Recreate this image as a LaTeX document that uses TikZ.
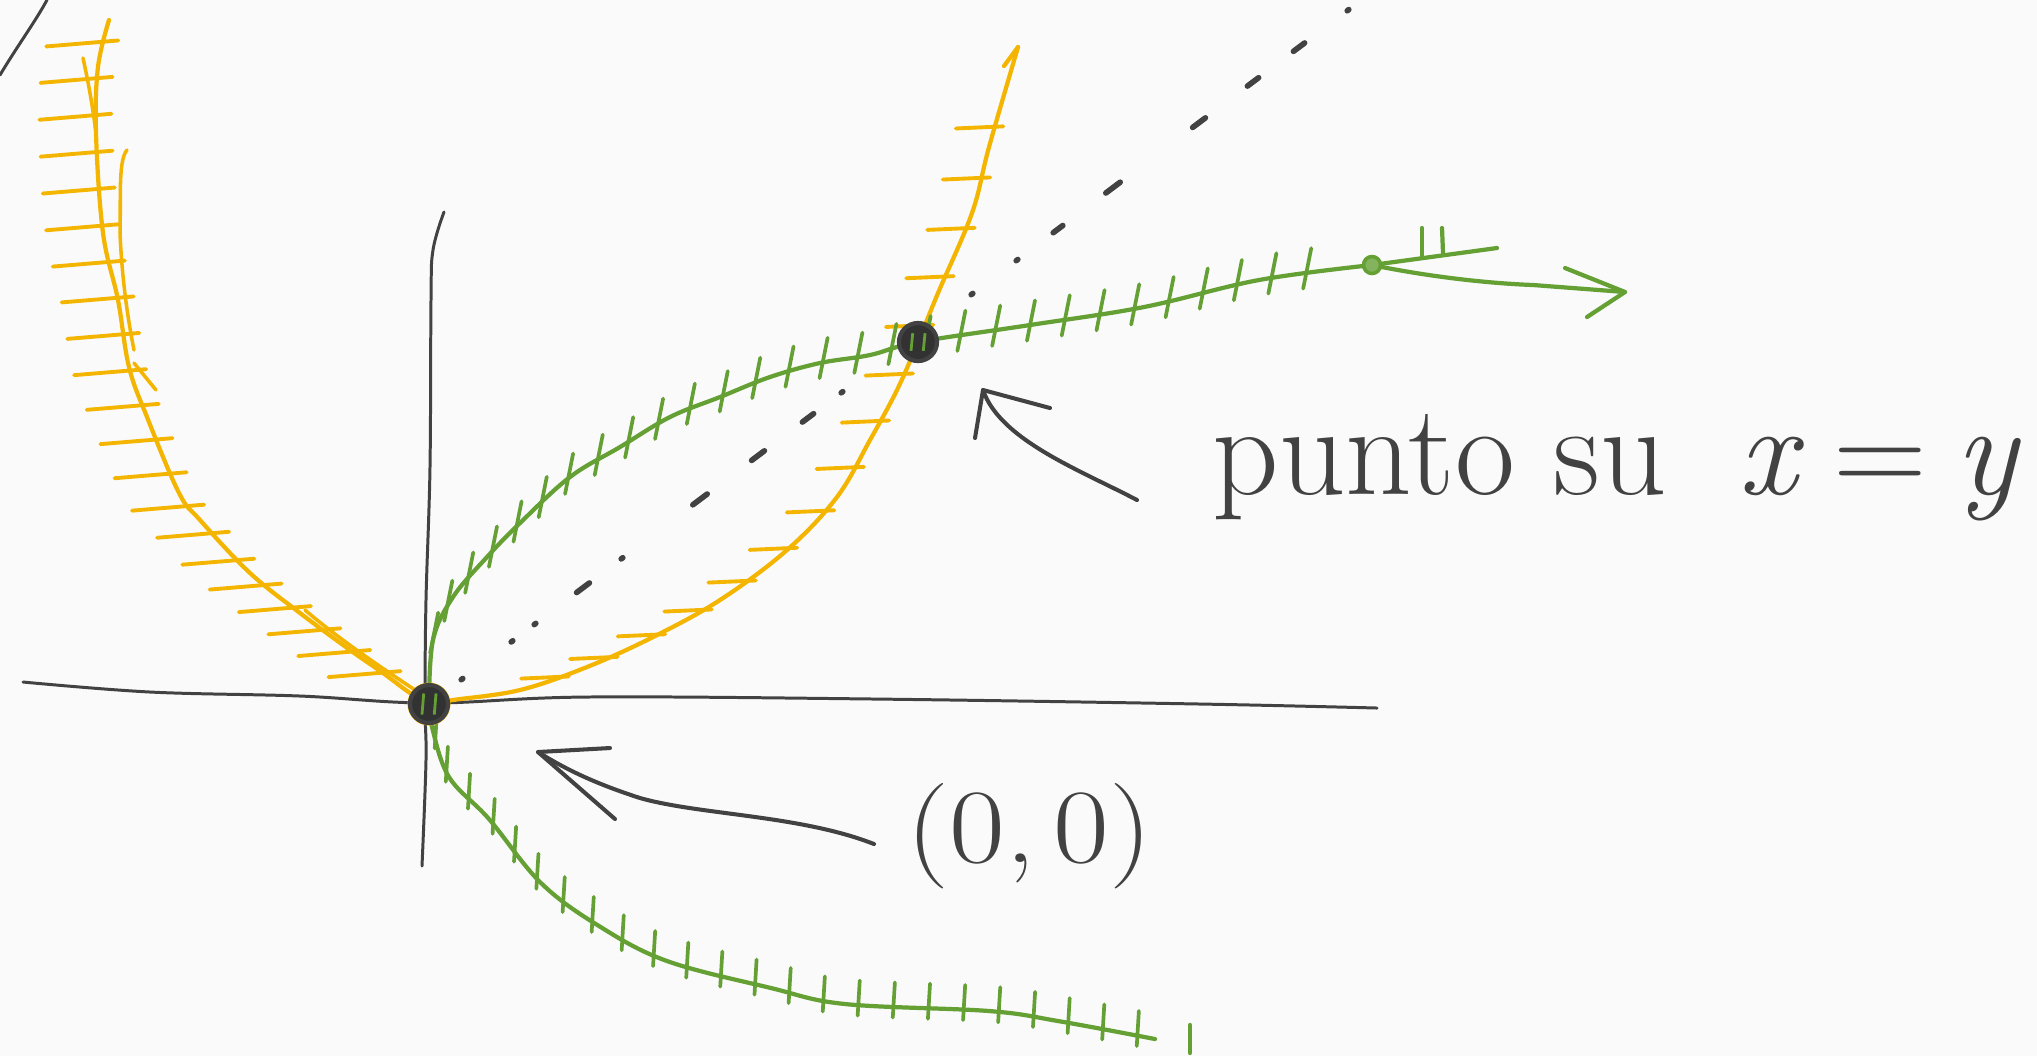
\documentclass[tikz,border=0pt]{standalone}
\usetikzlibrary{decorations.markings}
\definecolor{bgc}{RGB}{250,250,250}
\definecolor{ora}{RGB}{244,181,0}
\definecolor{grn}{RGB}{100,160,52}
\definecolor{ink}{RGB}{66,66,66}
\definecolor{dotc}{RGB}{50,50,50}
\tikzset{
  curveO/.style={ora, line width=1.2pt, line cap=round, line join=round},
  curveG/.style={grn, line width=1.2pt, line cap=round, line join=round},
  axisline/.style={ink, line width=0.85pt, line cap=round, line join=round},
  pen/.style={ink, line width=1.15pt, line cap=round, line join=round},
  dotpen/.style={ink, line width=1.6pt, line cap=round},
  hatchOL/.style={postaction={decorate, decoration={markings,
     mark=between positions 0.03 and 0.975 step 10.5pt with {\pgftransformresetnontranslations
       \draw[ora, line width=1.1pt, line cap=round] (-16pt,-0.8pt) -- (4.5pt,0.9pt);}}}},
  hatchOR/.style={postaction={decorate, decoration={markings,
     mark=between positions 0.14 and 0.94 step 15pt with {\pgftransformresetnontranslations
       \draw[ora, line width=1.1pt, line cap=round] (-11pt,-0.3pt) -- (2.5pt,0.3pt);}}}},
  hatchGU/.style={postaction={decorate, decoration={markings,
     mark=between positions 0.06 and 0.95 step 10pt with {\pgftransformresetnontranslations
       \draw[grn, line width=1.05pt, line cap=round] (-1pt,-4.5pt) -- (1.3pt,7pt);}}}},
  hatchGL/.style={postaction={decorate, decoration={markings,
     mark=between positions 0.04 and 0.98 step 10pt with {\pgftransformresetnontranslations
       \draw[grn, line width=1.05pt, line cap=round] (0pt,-3pt) -- (0.6pt,7pt);}}}},
  bigdot/.style={circle, fill=dotc, draw=ink, line width=1.2pt, minimum size=0.38cm, inner sep=0pt},
  smalldot/.style={circle, draw=grn, fill=grn!80!white, line width=1pt, minimum size=0.17cm, inner sep=0pt},
  lbl/.style={ink, inner sep=0pt}
}
\begin{document}
\begin{tikzpicture}[x=0.01cm, y=-0.01cm]
\fill[bgc] (0,0) rectangle (2037,1056);
\useasboundingbox (0,0) rectangle (2037,1056);

\coordinate (O) at (429,704);
\coordinate (P) at (918,342);
\coordinate (G) at (1372,265);

% stray line top left
\draw[axisline] (0,75) .. controls (18,45) and (35,22) .. (47,0);

% axes
\draw[axisline] plot[smooth, tension=0.6] coordinates {(23,682) (150,692) (300,696) (429,703) (587,697) (874,699) (1200,704) (1377,708)};
\draw[axisline] plot[smooth, tension=0.6] coordinates {(444,212) (433,250) (431,300) (430,467) (426,600) (425,704) (426,760) (422,866)};

% dotted diagonal x=y
\foreach \px/\len in {462/0, 512/0, 535/0, 583/14, 622/0, 700/16, 758/14, 808/12, 842/0, 972/0, 1017/0, 1058/10, 1113/16, 1199/14, 1253/12, 1299/12, 1348/0}{
  \pgfmathsetmacro{\py}{704-0.755*(\px-429)}
  \pgfmathsetmacro{\hx}{0.4*\len+0.8}
  \pgfmathsetmacro{\hy}{0.3*\len+0.6}
  \draw[dotpen] (\px-\hx,\py+\hy) -- (\px+\hx,\py-\hy);
}

% orange left branch
\draw[curveO, hatchOL] plot[smooth, tension=0.6] coordinates {(109,20) (98,67) (96,133) (103,233) (118,300) (129,367) (147,417) (179,493) (200,520) (250,573) (300,613) (350,650) (383,673) (410,693) (429,704)};
\draw[curveO, line width=1pt] (83,58) .. controls (90,90) and (93,110) .. (96,133);
\draw[curveO, line width=1pt] (127,150) .. controls (118,160) and (121,200) .. (120,233) .. controls (122,280) and (128,320) .. (134,350);
\draw[curveO, line width=1pt] (134,363) -- (156,390);
\draw[curveO, line width=1pt] (305,610) .. controls (340,640) and (385,670) .. (418,692);

% orange right branch
\draw[curveO, hatchOR] plot[smooth, tension=0.6] coordinates {(429,704) (453,700) (520,690) (587,667) (653,637) (720,600) (787,550) (837,497) (870,440) (897,390) (918,342) (938,293) (972,213) (989,147) (1018,47)};
\draw[curveO] (1004,66) -- (1018,47);

% green upper branch
\draw[curveG, hatchGU] plot[smooth, tension=0.6] coordinates {(429,704) (433,640) (453,597) (487,557) (520,523) (570,477) (620,447) (670,417) (720,397) (770,377) (820,363) (870,355) (918,342) (1030,325) (1144,307) (1259,280) (1372,265)};
\draw[curveG] (G) -- (1497,248);
\draw[curveG] (1422,228) -- (1422,257);
\draw[curveG] (1442,228) -- (1443,253);
\draw[curveG] (G) .. controls (1420,275) and (1480,283) .. (1533,285) -- (1625,292);
\draw[curveG] (1565,268) -- (1625,292) -- (1587,317);

% green lower branch
\draw[curveG, hatchGL] plot[smooth, tension=0.6] coordinates {(429,704) (432,727) (449,777) (489,819) (541,883) (599,926) (667,961) (771,988) (845,1004) (989,1011) (1058,1021) (1155,1039)};
\draw[curveG] (1190,1025) -- (1190,1053);

% points
\fill[ora] (O) circle (0.215cm);
\node[bigdot] (Odot) at (O) {};
\draw[grn, line width=0.8pt, shift={(O)}] (-2pt,-3pt) -- (-1.5pt,3pt) (1.5pt,-3pt) -- (2pt,3pt);
\node[bigdot] (Pdot) at (P) {};
\draw[grn, line width=0.8pt, shift={(P)}] (-2pt,-2.5pt) -- (-1.5pt,2.5pt) (1.5pt,-2.5pt) -- (2pt,2.5pt);
\node[smalldot] (Gdot) at (G) {};

% arrow to P
\coordinate (aPs) at (1137,500);
\coordinate (aPt) at (983,390);
\draw[pen] (aPs) .. controls (1080,470) and (1000,440) .. (aPt);
\draw[pen] (1050,408) -- (aPt) -- (975,438);

% arrow to O
\coordinate (aOs) at (874,844);
\coordinate (aOt) at (538,752);
\draw[pen] (aOs) .. controls (800,815) and (700,815) .. (640,798) .. controls (600,785) and (570,772) .. (aOt);
\draw[pen] (610,748) -- (aOt) -- (615,819);

% labels
\node[lbl, anchor=base west, font=\fontsize{37}{40}\selectfont] (lblP) at (1212,494) {punto su \hspace{0.25em}\textit{x}\hspace{0.22em}=\hspace{0.22em}\textit{y}};
\node[lbl, anchor=base west, font=\fontsize{30}{34}\selectfont] (lblO) at (906,862) {\scalebox{1.15}[1]{(0,\hspace{0.15em}0)}};
\end{tikzpicture}
\end{document}
